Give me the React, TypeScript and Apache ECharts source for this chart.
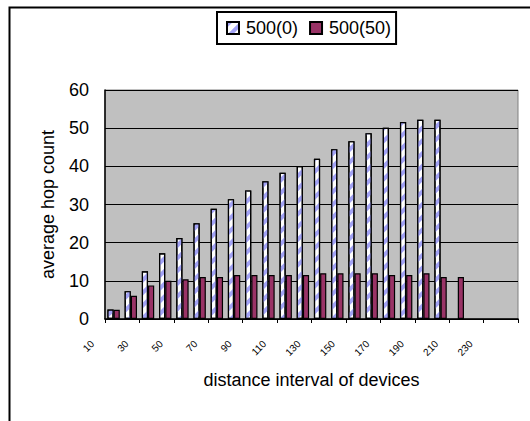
import React, { useEffect, useRef } from "react";
import * as echarts from "echarts";

const categories = ["10","20","30","40","50","60","70","80","90","100","110","120","130","140","150","160","170","180","190","200","210","220","230","240"];
const series0 = [2.5, 7.3, 12.5, 17.2, 21.2, 25.1, 28.9, 31.4, 33.7, 36.1, 38.3, 40.1, 42.0, 44.5, 46.6, 48.7, 50.1, 51.6, 52.2, 52.2];
const series50 = [2.4, 6.1, 8.8, 10.0, 10.4, 11.0, 11.0, 11.5, 11.5, 11.5, 11.5, 11.5, 12.0, 12.0, 12.0, 12.0, 11.5, 11.5, 12.0, 11.0, 11.0];
const yTicks = { min: 0, max: 60, interval: 10 };
const seriesNames = ["500(0)", "500(50)"];

export default function App() {
  const ref = useRef<HTMLDivElement>(null);
  useEffect(() => {
    if (!ref.current) return;
    const chart = echarts.init(ref.current, undefined, { renderer: "svg" });
    const font = "Liberation Sans, Arial, sans-serif";
    chart.setOption({
      animation: false,
      backgroundColor: "#ffffff",
      textStyle: { fontFamily: font, color: "#000" },
      graphic: [
        {
          type: "rect",
          left: 7,
          top: 5,
          shape: { width: 600, height: 500 },
          style: { fill: "none", stroke: "#000", lineWidth: 2 },
          silent: true,
        },
      ],
      legend: {
        left: 217,
        top: 12,
        data: seriesNames,
        icon: "rect",
        itemWidth: 12,
        itemHeight: 12,
        itemGap: 11,
        padding: [7, 5, 7, 9],
        borderColor: "#000",
        borderWidth: 2,
        textStyle: { fontSize: 18, fontFamily: font, color: "#000", padding: [0, 0, 0, 2] },
      },
      grid: {
        left: 105,
        right: 12,
        top: 90,
        bottom: 102,
        show: true,
        backgroundColor: "#c0c0c0",
        borderColor: "#808080",
        borderWidth: 1,
      },
      xAxis: {
        type: "category",
        data: categories,
        boundaryGap: true,
        name: "distance interval of devices",
        nameLocation: "middle",
        nameGap: 52,
        nameTextStyle: { fontSize: 18, fontFamily: font, color: "#000" },
        axisLine: { lineStyle: { color: "#000", width: 1.5 } },
        axisTick: { show: true, length: 4, lineStyle: { color: "#000" } },
        axisLabel: {
          interval: 1,
          rotate: 45,
          fontSize: 10,
          margin: 2,
          padding: [0, 30, 0, 0],
          color: "#000",
          fontFamily: font,
        },
        splitLine: { show: false },
      },
      yAxis: {
        type: "value",
        min: yTicks.min,
        max: yTicks.max,
        interval: yTicks.interval,
        name: "average hop count",
        nameLocation: "middle",
        nameGap: 48,
        nameTextStyle: { fontSize: 18, fontFamily: font, color: "#000" },
        axisLine: { show: true, lineStyle: { color: "#000", width: 1.5 } },
        axisTick: { show: false },
        axisLabel: { fontSize: 18, margin: 16, color: "#000", fontFamily: font },
        splitLine: { show: true, lineStyle: { color: "#000", width: 1 } },
      },
      series: [
        {
          name: seriesNames[0],
          type: "bar",
          data: series0,
          barGap: "0%",
          barCategoryGap: "28%",
          itemStyle: {
            color: "#ffffff",
            borderColor: "#000",
            borderWidth: 1.2,
            decal: {
              symbol: "rect",
              symbolSize: 1,
              color: "#a3a3f5",
              dashArrayX: [1, 0],
              dashArrayY: [4, 5],
              rotation: -Math.PI / 4,
            },
          },
        },
        {
          name: seriesNames[1],
          type: "bar",
          data: series50,
          itemStyle: { color: "#993366", borderColor: "#000", borderWidth: 1.2 },
        },
      ],
    });
    return () => chart.dispose();
  }, []);
  return (
    <div
      ref={ref}
      style={{ position: "fixed", left: 0, top: 0, width: 530, height: 421 }}
    />
  );
}
